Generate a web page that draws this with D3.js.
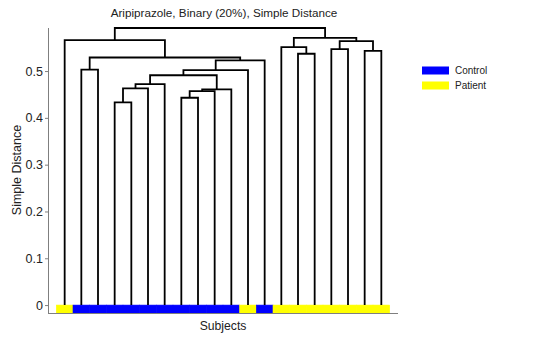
<!DOCTYPE html>
<html>
<head>
<meta charset="utf-8">
<script src="https://cdn.jsdelivr.net/npm/d3@7"></script>
<style>
  html, body { margin: 0; padding: 0; background: #fff; }
  svg { display: block; font-family: "Liberation Sans", Arial, sans-serif; }
</style>
</head>
<body>
<svg id="chart" width="537" height="353"></svg>
<script>
// ---- data ----
const title = "Aripiprazole, Binary (20%), Simple Distance";
const yLabel = "Simple Distance";
const xLabel = "Subjects";
// leaves in dendrogram order (left to right), with their group
const leafGroups = ["Patient","Control","Control","Control","Control","Control","Control","Control","Control","Control","Control","Patient","Control","Patient","Patient","Patient","Patient","Patient","Patient","Patient"];
// merges: node ids 1..20 are leaves (in display order), 21+ are merged clusters
const mergeLeft  = [4, 21, 22, 8, 24, 25, 23, 27, 28, 2, 30, 1, 15, 14, 17, 19, 35, 34, 32];
const mergeRight = [5, 6, 7, 9, 10, 11, 26, 12, 13, 3, 29, 31, 16, 33, 18, 20, 36, 37, 38];
const mergeHeight = [0.433, 0.463, 0.472, 0.443, 0.457, 0.461, 0.491, 0.502, 0.523, 0.503, 0.529, 0.566, 0.537, 0.551, 0.547, 0.543, 0.564, 0.571, 0.592];
const yTicks = [0, 0.1, 0.2, 0.3, 0.4, 0.5];
const yTickLabels = ["0", "0.1", "0.2", "0.3", "0.4", "0.5"];
const legendLabels = ["Control", "Patient"];
const groupColors = ["#0000ff", "#ffff00"];

// ---- scales ----
const svg = d3.select("#chart");
const x = d3.scaleLinear().domain([0, leafGroups.length + 1]).range([48, 398]);
const y = d3.scaleLinear().domain([-0.018, 0.592]).range([313.5, 28]);
const color = d3.scaleOrdinal().domain(legendLabels).range(groupColors);

// node positions
const nodeX = {}, nodeH = {};
leafGroups.forEach((g, i) => { nodeX[i + 1] = i + 1; nodeH[i + 1] = 0; });
mergeLeft.forEach((l, k) => {
  const id = leafGroups.length + 1 + k;
  nodeX[id] = (nodeX[l] + nodeX[mergeRight[k]]) / 2;
  nodeH[id] = mergeHeight[k];
});

// ---- color bar ----
svg.append("g").selectAll("rect").data(leafGroups).join("rect")
  .attr("x", (d, i) => x(i + 0.5))
  .attr("width", x(1) - x(0))
  .attr("y", y(0))
  .attr("height", y(-0.018) - y(0))
  .attr("fill", d => color(d))
  .attr("stroke", d => color(d))
  .attr("stroke-width", 0.6);

// ---- axes ----
const axisColor = "#7f7f7f";
svg.append("line").attr("x1", x(0)).attr("x2", x(0)).attr("y1", y(-0.018)).attr("y2", y(0.592))
  .attr("stroke", axisColor).attr("stroke-width", 1).attr("shape-rendering", "crispEdges");
svg.append("line").attr("x1", x(0)).attr("x2", x(21)).attr("y1", y(-0.018)).attr("y2", y(-0.018))
  .attr("stroke", axisColor).attr("stroke-width", 1).attr("shape-rendering", "crispEdges");

const yAxis = d3.axisLeft(y).tickValues(yTicks).tickFormat((d, i) => yTickLabels[i]).tickSize(3).tickPadding(2);
const gy = svg.append("g").attr("transform", `translate(${x(0)},0)`).call(yAxis);
gy.select(".domain").remove();
gy.selectAll(".tick line").attr("stroke", axisColor);
gy.selectAll(".tick text").attr("font-size", 12.5).attr("fill", "#222")
  .attr("font-family", "'Liberation Sans', Arial, sans-serif");

// ---- dendrogram ----
const gl = svg.append("g");
mergeLeft.forEach((l, k) => {
  const r = mergeRight[k];
  const p = d3.path();
  p.moveTo(x(nodeX[l]), y(nodeH[l]));
  p.lineTo(x(nodeX[l]), y(mergeHeight[k]));
  p.lineTo(x(nodeX[r]), y(mergeHeight[k]));
  p.lineTo(x(nodeX[r]), y(nodeH[r]));
  gl.append("path").attr("d", p.toString())
    .attr("fill", "none").attr("stroke", "#000").attr("stroke-width", 1.8);
});

// ---- texts ----
svg.append("text").attr("x", 224).attr("y", 16.5).attr("text-anchor", "middle")
  .attr("font-size", 11.7).attr("fill", "#222").text(title);
svg.append("text").attr("transform", "translate(21,170) rotate(-90)").attr("text-anchor", "middle")
  .attr("font-size", 12.5).attr("fill", "#222").text(yLabel);
svg.append("text").attr("x", 223).attr("y", 330).attr("text-anchor", "middle")
  .attr("font-size", 12.2).attr("fill", "#222").text(xLabel);

// ---- legend ----
const lg = svg.append("g").selectAll("g").data(legendLabels).join("g")
  .attr("transform", (d, i) => `translate(422,${66.5 + i * 15})`);
lg.append("rect").attr("width", 27).attr("height", 8).attr("fill", d => color(d));
lg.append("text").attr("x", 33).attr("y", 4).attr("dy", "0.35em")
  .attr("font-size", 10).attr("fill", "#222").text(d => d);
</script>
</body>
</html>
